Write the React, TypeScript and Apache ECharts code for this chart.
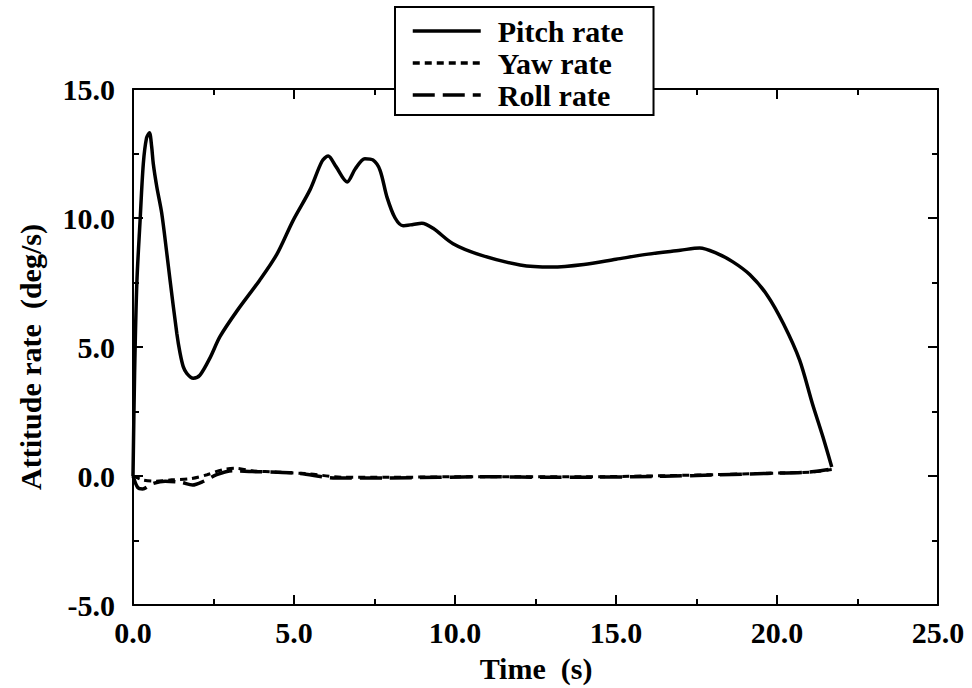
import React, { useEffect, useRef } from "react";
import * as echarts from "echarts";

const pitchT = [0, 0.05, 0.12, 0.22, 0.32, 0.42, 0.51, 0.58, 0.63, 0.74, 0.89, 1.05, 1.15, 1.36, 1.46, 1.56, 1.67, 1.87, 2.08, 2.4, 2.7, 3.23, 3.94, 4.47, 4.97, 5.5, 5.87, 6.06, 6.3, 6.65, 6.9, 7.2, 7.45, 7.67, 7.89, 8.14, 8.39, 8.7, 8.97, 9.32, 9.94, 10.78, 12.02, 13.0, 14.0, 15.0, 16.0, 17.0, 17.6, 18.1, 18.63, 19.16, 19.7, 20.2, 20.7, 21.1, 21.43, 21.7];
const pitchV = [0, 4.0, 7.5, 9.9, 12.1, 13.1, 13.3, 12.76, 12.1, 11.2, 10.2, 8.63, 7.6, 5.53, 4.77, 4.24, 3.98, 3.79, 3.91, 4.6, 5.4, 6.4, 7.6, 8.6, 9.9, 11.1, 12.2, 12.4, 12.0, 11.4, 11.9, 12.3, 12.25, 11.86, 10.8, 10.0, 9.7, 9.75, 9.8, 9.6, 9.0, 8.57, 8.18, 8.1, 8.2, 8.4, 8.6, 8.75, 8.84, 8.65, 8.3, 7.8, 7.0, 5.9, 4.5, 2.8, 1.5, 0.35];

const yawT = [0, 0.3, 0.7, 1.2, 1.8, 2.3, 2.8, 3.2, 3.7, 4.5, 5.5, 6.5, 8, 10, 12, 14, 16, 18, 19.5, 21, 21.7];
const yawV = [0, -0.15, -0.2, -0.15, -0.1, 0.05, 0.25, 0.3, 0.2, 0.15, 0.08, -0.05, -0.05, -0.03, -0.03, -0.03, 0, 0.05, 0.1, 0.15, 0.25];

const rollT = [0, 0.15, 0.3, 0.6, 1.0, 1.5, 1.85, 2.2, 2.6, 3.1, 3.7, 4.5, 5.2, 6.3, 7.9, 9.5, 11, 13, 15.5, 17.5, 19.7, 21, 21.6];
const rollV = [0, -0.45, -0.5, -0.3, -0.2, -0.25, -0.35, -0.2, 0.05, 0.2, 0.17, 0.15, 0.1, -0.08, -0.08, -0.05, -0.03, -0.05, -0.03, 0.02, 0.1, 0.15, 0.25];

const seriesNames = ["Pitch rate", "Yaw rate", "Roll rate"];
const xTitle = "Time  (s)";
const yTitle = "Attitude rate  (deg/s)";

const zip = (t: number[], v: number[]) => t.map((x, i) => [x, v[i]]);

const FONT = "'Liberation Serif', 'DejaVu Serif', serif";

export default function App() {
  const ref = useRef<HTMLDivElement>(null);
  useEffect(() => {
    if (!ref.current) return;
    const chart = echarts.init(ref.current, undefined, { renderer: "svg" });
    const axisLine = { show: true, onZero: false, lineStyle: { color: "#000", width: 2 } };
    const ticks = { show: true, inside: true, length: 10, lineStyle: { color: "#000", width: 2 } };
    const minor = { show: true, splitNumber: 2, length: 6, lineStyle: { color: "#000", width: 2 } };
    const tickLabel = {
      color: "#000",
      fontFamily: FONT,
      fontWeight: "bold" as const,
      fontSize: 30,
      formatter: (v: number) => v.toFixed(1),
    };
    const titleStyle = { fill: "#000", fontFamily: FONT, fontWeight: "bold", fontSize: 30 };
    chart.setOption({
      animation: false,
      backgroundColor: "#fff",
      grid: { left: 133, right: 34, top: 89, bottom: 83, containLabel: false },
      legend: {
        data: seriesNames,
        orient: "vertical",
        left: 395,
        top: 7,
        itemWidth: 68,
        itemHeight: 24,
        itemGap: 2,
        padding: [9, 30, 5, 16],
        backgroundColor: "#fff",
        borderColor: "#000",
        borderWidth: 2,
        z: 10,
        itemStyle: { opacity: 0 },
        lineStyle: { width: 3.5 },
        textStyle: {
          color: "#000",
          fontFamily: FONT,
          fontWeight: "bold",
          fontSize: 30,
          padding: [0, 0, 0, 12],
        },
      },
      graphic: [
        {
          type: "text",
          x: 536,
          y: 668,
          style: { ...titleStyle, text: xTitle, textAlign: "center", textVerticalAlign: "middle" },
        },
        {
          type: "text",
          x: 30,
          y: 357,
          rotation: Math.PI / 2,
          style: { ...titleStyle, text: yTitle, textAlign: "center", textVerticalAlign: "middle" },
        },
      ],
      xAxis: [
        {
          type: "value",
          min: 0,
          max: 25,
          interval: 5,
          position: "bottom",
          axisLine,
          axisTick: ticks,
          minorTick: minor,
          axisLabel: { ...tickLabel, margin: 12 },
          splitLine: { show: false },
        },
        {
          type: "value",
          min: 0,
          max: 25,
          interval: 5,
          position: "top",
          axisLine,
          axisTick: ticks,
          minorTick: minor,
          axisLabel: { show: false },
          splitLine: { show: false },
        },
      ],
      yAxis: [
        {
          type: "value",
          min: -5,
          max: 15,
          interval: 5,
          position: "left",
          axisLine,
          axisTick: ticks,
          minorTick: minor,
          axisLabel: { ...tickLabel, margin: 18 },
          splitLine: { show: false },
        },
        {
          type: "value",
          min: -5,
          max: 15,
          interval: 5,
          position: "right",
          axisLine,
          axisTick: ticks,
          minorTick: minor,
          axisLabel: { show: false },
          splitLine: { show: false },
        },
      ],
      series: [
        {
          name: seriesNames[0],
          type: "line",
          xAxisIndex: 0,
          yAxisIndex: 0,
          data: zip(pitchT, pitchV),
          showSymbol: false,
          symbol: "none",
          smooth: 0.3,
          lineStyle: { color: "#000", width: 3.5, type: "solid" },
          itemStyle: { color: "#000" },
        },
        {
          name: seriesNames[1],
          type: "line",
          xAxisIndex: 0,
          yAxisIndex: 0,
          data: zip(yawT, yawV),
          showSymbol: false,
          symbol: "none",
          smooth: 0.3,
          lineStyle: { color: "#000", width: 3, type: [7, 5] },
          itemStyle: { color: "#000" },
        },
        {
          name: seriesNames[2],
          type: "line",
          xAxisIndex: 0,
          yAxisIndex: 0,
          data: zip(rollT, rollV),
          showSymbol: false,
          symbol: "none",
          smooth: 0.3,
          lineStyle: { color: "#000", width: 3.5, type: [22, 8] },
          itemStyle: { color: "#000" },
        },
      ],
    });
    return () => chart.dispose();
  }, []);
  return <div ref={ref} style={{ width: 972, height: 688, position: "absolute", left: 0, top: 0 }} />;
}
